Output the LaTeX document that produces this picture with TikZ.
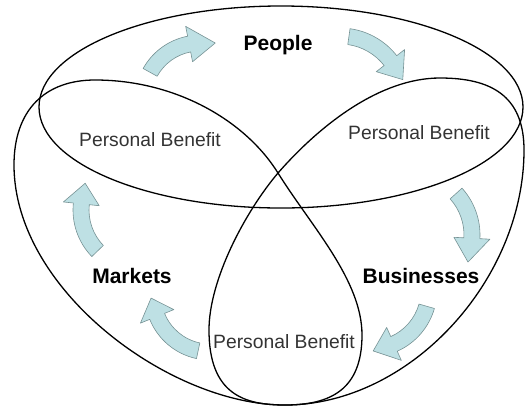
\documentclass[tikz,border=0pt]{standalone}
\usepackage{fontspec}
\setmainfont{Liberation Sans}
\definecolor{flowfill}{RGB}{190,224,228}
\definecolor{flowedge}{RGB}{118,146,148}
\tikzset{
  ring/.style={line width=1.3pt},
  flow/.style={fill=flowfill, draw=flowedge, line width=.6pt},
  mainlabel/.style={font=\fontsize{21}{25}\selectfont\bfseries, anchor=base},
  benefit/.style={font=\fontsize{19.3}{23}\selectfont, text=black!80, anchor=base}
}
\begin{document}
\begin{tikzpicture}[x=1pt, y=-1pt, line join=round, line cap=round]
	\useasboundingbox (0,0) rectangle (530,408);
	% curved arrows: centre / radius / tail, head base and tip angles
	\foreach \cx/\cy/\r/\a/\b/\t in {200/100/57/209/259/285, 340/100/64/278/322/342, 410/235/62/318/363/385, 370/290/59/16/66/87, 210/295/57/102/158/177, 140/210/59/136/186/206}
		\filldraw[flow, shift={(\cx,\cy)}] (\a:\r+8) arc[start angle=\a, end angle=\b, radius=\r+8] -- (\b:\r+18) -- (\t:\r+2) -- (\b:\r-18) -- (\b:\r-8) arc[start angle=\b, end angle=\a, radius=\r-8] -- cycle;
	\draw[ring] (281,107) ellipse[x radius=242, y radius=101];
	\draw[ring] (285,405) .. controls (170,405) and (14,290) .. (14,165) .. controls (14,110) and (45,80) .. (95,80) .. controls (175,80) and (245,120) .. (278,173) .. controls (311,226) and (362,280) .. (362,335) .. controls (362,390) and (330,405) .. (285,405) -- cycle;
	\draw[ring] (285,405) .. controls (410,405) and (524,280) .. (524,150) .. controls (524,95) and (490,78) .. (440,78) .. controls (380,78) and (320,125) .. (278,173) .. controls (245,212) and (209,280) .. (209,330) .. controls (209,395) and (245,405) .. (285,405) -- cycle;
	\node[mainlabel] (people) at (278,50) {People};
	\node[mainlabel] (markets) at (132,283) {Markets};
	\node[mainlabel] (businesses) at (421,283) {Businesses};
	\node[benefit] (pbleft) at (150,146) {Personal Benefit};
	\node[benefit] (pbright) at (419,139) {Personal Benefit};
	\node[benefit] (pbbottom) at (284,348) {Personal Benefit};
\end{tikzpicture}
\end{document}
